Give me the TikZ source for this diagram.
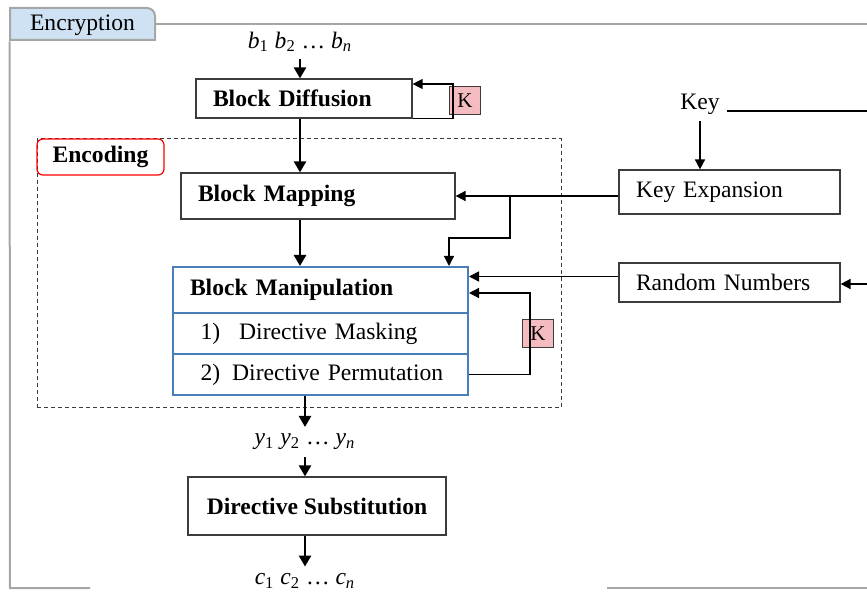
\documentclass[tikz,border=0pt]{standalone}
\usepackage{fontspec}
\setmainfont{Liberation Serif}
\usepackage{tikz}
\usetikzlibrary{arrows.meta,positioning}

\definecolor{tabblue}{HTML}{CFE2F3}
\definecolor{kpink}{HTML}{F4BCC0}
\definecolor{manipblue}{HTML}{4A7EBB}
\definecolor{framegray}{HTML}{A6A6A6}
\definecolor{boxgray}{HTML}{3C3C3C}
\newcommand{\dfont}{\fontsize{11.8}{14}\selectfont}

\begin{document}
\begin{tikzpicture}[x=0.5pt, y=-0.5pt,
  every node/.style={font=\dfont},
  blk/.style={draw=boxgray, line width=0.6pt, inner xsep=8.5pt, inner ysep=0pt, align=left, font=\dfont\bfseries},
  mrow/.style={draw=manipblue, line width=1pt, inner xsep=11.25pt, inner ysep=0pt, align=left, text width=125pt},
  kbox/.style={draw=boxgray, fill=kpink, line width=0.6pt, minimum width=15.5pt, minimum height=14pt, inner sep=0pt, font=\fontsize{10.5}{12}\selectfont},
  frame/.style={draw=framegray, line width=1pt},
  flow/.style={-{Triangle[length=5.5pt,width=6pt]}, line width=1.3pt},
  arr/.style={-{Triangle[length=5pt,width=5pt]}, line width=0.8pt},
  looparr/.style={-{Triangle[length=5pt,width=5pt]}, line width=0.65pt}]
  \useasboundingbox (0,0) rectangle (867,592);

  % outer frame and tab
  \draw[frame, fill=tabblue] (10,40) -- (10,8) [rounded corners=4pt] -- (155,8) [sharp corners] -- (155,40) -- cycle;
  \node (tab) at (82.5,25) [minimum width=72.5pt, minimum height=16pt, inner sep=0pt] {Encryption};
  \coordinate (ftr) at (867,24);
  \coordinate (fbl) at (10,588);
  \coordinate (fgap1) at (90,588);
  \coordinate (fgap2) at (607,588);
  \coordinate (fbr) at (867,588);
  \draw[frame] (tab.east |- ftr) -- (ftr);
  \draw[frame] (tab.south west) -- (fbl) -- (fgap1);
  \draw[frame] (fgap2) -- (fbr);

  % encoding part
  \node (enc) at (299,273.5) [draw=boxgray, dashed, dash pattern=on 2pt off 1.5pt, line width=0.5pt, minimum width=262pt, minimum height=134.5pt, inner sep=0pt] {};
  \node (enclab) at (100.5,157) [draw=red, rounded corners=3pt, line width=0.6pt, minimum width=63.5pt, minimum height=18pt, inner sep=0pt, font=\dfont\bfseries] {Encoding};

  % labels
  \node (bits) at (300,42) {\textit{b}\textsubscript{1} \textit{b}\textsubscript{2} \ldots{} \textit{b}\textsubscript{\textit{n}}};
  \node (ys) at (305,442) {\textit{y}\textsubscript{1} \textit{y}\textsubscript{2} \ldots{} \textit{y}\textsubscript{\textit{n}}};
  \node (cs) at (305,581) {\textit{c}\textsubscript{1} \textit{c}\textsubscript{2} \ldots{} \textit{c}\textsubscript{\textit{n}}};
  \node (key) at (700,104) {Key};

  % boxes
  \node (dif) at (304,98.5) [blk, text width=91pt, minimum height=19.5pt] {Block Diffusion};
  \node (map) at (318,196) [blk, text width=120pt, minimum height=23pt] {Block Mapping};
  \node (manip) at (320.5,290) [mrow, inner xsep=8.5pt, text width=130.5pt, minimum height=23pt, font=\dfont\bfseries] {Block Manipulation};
  \node (mask) at (320.5,333.5) [mrow, minimum height=20.5pt] {\hspace*{2.5pt}1)\hspace{9.5pt}Directive Masking};
  \node (perm) at (320.5,374.5) [mrow, minimum height=20.5pt] {\hspace*{2.5pt}2)\hspace{6pt}Directive Permutation};
  \node (keyexp) at (729.5,192) [blk, font=\dfont, text width=93.5pt, minimum height=22pt] {Key Expansion};
  \node (rand) at (729.5,282.5) [blk, font=\dfont, text width=93.5pt, minimum height=19.5pt] {Random Numbers};
  \node (subst) at (317,506) [draw=boxgray, line width=0.6pt, minimum width=129pt, minimum height=29pt, inner sep=0pt, font=\dfont\bfseries] {Directive Substitution};
  \node (k1) at (465,100.5) [kbox] {K};
  \node (k2) at (538,333.5) [kbox] {K};

  % main flow
  \draw[flow] (bits.south) -- (bits |- dif.north);
  \draw[flow] (dif.south -| bits) -- (map.north -| bits);
  \draw[flow] (map.south -| bits) -- (manip.north -| bits);
  \draw[flow] (perm.south -| ys) -- (ys.north);
  \draw[flow] (ys.south) -- (subst.north -| ys);
  \draw[flow] (subst.south -| ys) -- (cs.north);

  % key inputs
  \coordinate (keyend) at (867,111);
  \coordinate (br) at (510,196);
  \coordinate (brdrop) at (449,238);
  \coordinate (randin) at (867,284);
  \draw[looparr, -] (key.east |- keyend) -- (keyend);
  \draw[arr] (key.south) -- (keyexp.north -| key);
  \draw[arr] (keyexp.west |- map.east) -- (map.east);
  \draw[looparr] (br) |- (brdrop) -- (brdrop |- manip.north);
  \draw[arr] ([yshift=3pt]rand.west) -- ([yshift=3pt]rand.west -| manip.east);
  \draw[arr] (randin) -- (randin -| rand.east);

  % loops through K
  \coordinate (kx1) at (453,84);
  \coordinate (kx2) at (530,293);
  \draw[looparr] (dif.south east) -| (kx1) -- (kx1 -| dif.east);
  \draw[looparr] (perm.east) -| (kx2) -- (kx2 -| manip.east);
\end{tikzpicture}
\end{document}
